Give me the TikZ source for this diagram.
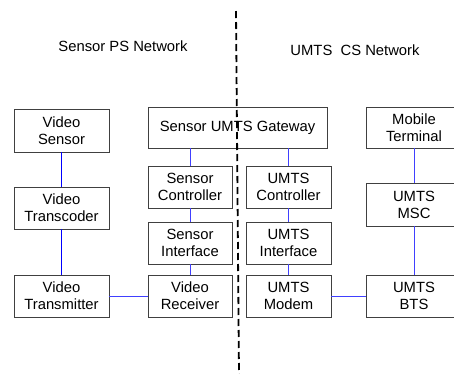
\documentclass[tikz,border=0pt]{standalone}
\usepackage{fontspec}
\setmainfont{Liberation Sans}
\begin{document}
\begin{tikzpicture}[x=1pt,y=-1pt,
  box/.style={draw=black!75, line width=0.9pt, rectangle, inner sep=0pt, align=center,
    font=\fontsize{14.8}{17}\selectfont},
  lnk/.style={draw=blue!75!white, line width=0.9pt},
  lnkdark/.style={draw=blue, line width=0.8pt},
  hdr/.style={inner sep=0pt, font=\fontsize{14.8}{17}\selectfont},
  divider/.style={draw=black, line width=1.8pt, dash pattern=on 7pt off 4pt}]
\clip (0,0) rectangle (454,373);
\fill[white] (0,0) rectangle (454,373);
% headers
\node[hdr] (h1) at (123,46) {Sensor PS Network};
\node[hdr] (h2) at (355,50) {UMTS\ \ CS Network};
% left column
\node[box, minimum width=95pt, minimum height=43pt] (vs) at (61.5,130.5) {Video\\Sensor};
\node[box, minimum width=95pt, minimum height=42pt] (vtc) at (61.5,208) {Video\\Transcoder};
\node[box, minimum width=95pt, minimum height=42pt] (vtx) at (61.5,296) {Video\\Transmitter};
% gateway
\node[box, minimum width=179pt, minimum height=41pt] (gw) at (237.5,127.5) {Sensor UMTS Gateway};
% sensor column
\node[box, minimum width=84pt, minimum height=42pt] (sc) at (190,187) {Sensor\\Controller};
\node[box, minimum width=84pt, minimum height=42pt] (si) at (190,243) {Sensor\\Interface};
\node[box, minimum width=84pt, minimum height=42pt] (vr) at (190,296) {Video\\Receiver};
% umts column
\node[box, minimum width=85pt, minimum height=42pt] (uc) at (288.5,187) {UMTS\\Controller};
\node[box, minimum width=85pt, minimum height=42pt] (ui) at (288.5,243) {UMTS\\Interface};
\node[box, minimum width=85pt, minimum height=42pt] (um) at (288.5,296) {UMTS\\Modem};
% right column
\node[box, minimum width=96pt, minimum height=41pt] (mt) at (414,127.5) {Mobile\\Terminal};
\node[box, minimum width=96pt, minimum height=43pt] (msc) at (414,204.5) {UMTS\\MSC};
\node[box, minimum width=96pt, minimum height=42pt] (bts) at (414,296) {UMTS\\BTS};
% links
\draw[lnkdark] (vs) -- (vtc);
\draw[lnkdark] (vtc) -- (vtx);
\draw[lnk] (vtx) -- (vr);
\draw[lnk] (gw.south -| sc.north) -- (sc.north);
\draw[lnk] (gw.south -| uc.north) -- (uc.north);
\draw[lnk] (sc) -- (si);
\draw[lnk] (si) -- (vr);
\draw[lnk] (uc) -- (ui);
\draw[lnk] (ui) -- (um);
\draw[lnk] (um) -- (bts);
\draw[lnk] (mt) -- (msc);
\draw[lnk] (msc) -- (bts);
% divider
\coordinate (dtop) at (236,11);
\coordinate (dbot) at (239,376);
\draw[divider] (dtop) -- (dbot);
\end{tikzpicture}
\end{document}
